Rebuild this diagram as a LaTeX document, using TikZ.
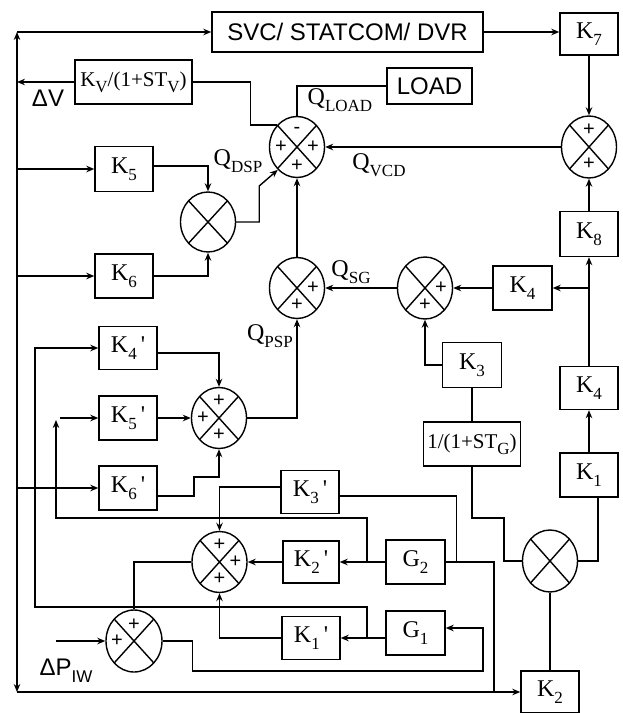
\documentclass[tikz,border=0pt]{standalone}
\usepackage{fontspec}
\setmainfont{Liberation Serif}
\setsansfont{Liberation Sans}
\usetikzlibrary{shapes.geometric, arrows.meta}
\newcommand{\lo}[1]{\raisebox{-0.28em}{\fontsize{17}{17}\selectfont #1}}
\newcommand{\pr}{\,\textquotesingle}

\begin{document}
\begin{tikzpicture}[
    x=1pt, y=-1pt,
    line width=1.4pt,
    font=\fontsize{24}{26}\selectfont,
    block/.style={rectangle, draw=black, minimum width=58, minimum height=44, inner sep=1pt},
    sumj/.style={ellipse, draw=black, minimum width=55, minimum height=61, inner sep=0pt,
        path picture={\draw (path picture bounding box.north west) -- (path picture bounding box.south east)
                            (path picture bounding box.north east) -- (path picture bounding box.south west);}},
    sgn/.style={inner sep=0pt, font=\sffamily\fontsize{20}{20}\selectfont},
    lbl/.style={inner sep=0pt},
    sanslbl/.style={inner sep=0pt, font=\sffamily\fontsize{24}{26}\selectfont},
    arrow/.style={->, >={Stealth[length=8pt, width=6.5pt]}}
]
\useasboundingbox (0,0) rectangle (623,713);

% --- Nodes ---
% Top row
\node (svc) at (347.5,32) [block, minimum width=271, minimum height=40, font=\sffamily\fontsize{24}{26}\selectfont] {SVC/ STATCOM/ DVR};
\node (k7) at (589,34) [block, minimum height=42] {K\lo{7}};
\node (kv) at (133.5,82) [block, minimum width=117, font=\fontsize{21}{24}\selectfont] {K\lo{V}/(1+ST\lo{V})};
\node (load) at (429.5,86) [block, minimum width=85, minimum height=36, font=\sffamily\fontsize{24}{26}\selectfont] {LOAD};

% Summing junctions (upper part)
\node (sq) at (297,147) [sumj] {};
\node (sv) at (589,147) [sumj, minimum height=62] {};
\node (dsp) at (208,222) [sumj, minimum height=60] {};
\node (sg) at (425,288) [sumj, minimum height=62] {};
\node (sp) at (297,288) [sumj] {};

% Right column
\node (k8) at (589,234) [block, minimum height=45] {K\lo{8}};
\node (k4a) at (522.5,288) [block, minimum width=59] {K\lo{4}};
\node (k4b) at (589,388) [block, minimum height=43] {K\lo{4}};
\node (k1) at (589,475) [block] {K\lo{1}};
\node (mul) at (550,561) [sumj, minimum height=62] {};
\node (k2) at (550,692) [block, minimum height=42] {K\lo{2}};

% Centre column
\node (k3) at (472,365) [block, minimum width=59, minimum height=45] {K\lo{3}};
\node (gtf) at (472,444) [block, minimum width=97, font=\fontsize{21}{24}\selectfont] {1/(1+ST\lo{G})};

% Left column
\node (k5) at (124,169) [block, minimum height=45] {K\lo{5}};
\node (k6) at (124,276) [block] {K\lo{6}};
\node (k4p) at (128,348) [block, minimum height=43] {K\lo{4}\pr};
\node (k5p) at (128,418) [block] {K\lo{5}\pr};
\node (k6p) at (128,488) [block] {K\lo{6}\pr};
\node (sk) at (219,418) [sumj] {};

% Lower part
\node (k3p) at (310,492) [block, minimum height=43] {K\lo{3}\pr};
\node (k2p) at (311,562) [block, minimum width=56, minimum height=42] {K\lo{2}\pr};
\node (k1p) at (311,638) [block, minimum height=43] {K\lo{1}\pr};
\node (g2) at (415.5,562) [block, minimum width=59] {G\lo{2}};
\node (g1) at (415.5,633) [block, minimum width=59] {G\lo{1}};
\node (sl) at (219.5,562) [sumj] {};
\node (sdp) at (134,641) [sumj, minimum width=56, minimum height=62] {};

% Signs
\node[sgn] (sq-t) at ([yshift=17pt]sq.center) {-};
\node[sgn] (sq-l) at ([xshift=-16pt]sq.center) {+};
\node[sgn] (sq-r) at ([xshift=16pt]sq.center) {+};
\node[sgn] (sq-b) at ([yshift=-19pt]sq.center) {+};
\node[sgn] (sv-t) at ([yshift=17pt]sv.center) {+};
\node[sgn] (sv-b) at ([yshift=-17pt]sv.center) {+};
\node[sgn] (sg-r) at ([xshift=16pt]sg.center) {+};
\node[sgn] (sg-b) at ([yshift=-17pt]sg.center) {+};
\node[sgn] (sp-r) at ([xshift=16pt]sp.center) {+};
\node[sgn] (sp-b) at ([yshift=-17pt]sp.center) {+};
\node[sgn] (sk-t) at ([yshift=17pt]sk.center) {+};
\node[sgn] (sk-l) at ([xshift=-16pt]sk.center) {+};
\node[sgn] (sk-b) at ([yshift=-17pt]sk.center) {+};
\node[sgn] (sl-t) at ([yshift=17pt]sl.center) {+};
\node[sgn] (sl-r) at ([xshift=16pt]sl.center) {+};
\node[sgn] (sl-b) at ([yshift=-17pt]sl.center) {+};
\node[sgn] (sdp-t) at ([yshift=16pt]sdp.center) {+};
\node[sgn] (sdp-l) at ([xshift=-17pt]sdp.center) {+};

% Signal labels
\node[sanslbl] (dv) at (48,98) {ΔV};
\node[lbl] (qload) at (340,100) {Q\lo{LOAD}};
\node[lbl] (qvcd) at (379,165) {Q\lo{VCD}};
\node[lbl] (qdsp) at (238,161) {Q\lo{DSP}};
\node[lbl] (qsg) at (351,272) {Q\lo{SG}};
\node[lbl] (qpsp) at (270,336) {Q\lo{PSP}};
\node[sanslbl] (dpiw) at (66,671) {ΔP\lo{IW}};

% --- Edges ---
% Left bus
\coordinate (bt) at (17,32);
\coordinate (bb) at (17,692);
\draw [arrow, <->] (bt) -- (bb);
\draw [arrow] (bt) -- (svc.west);
\draw [arrow] (bb) -- (k2.west);
\draw [arrow] (kv.west) -- (kv.west -| bb);
\draw [arrow] (k5.west -| bb) -- (k5.west);
\draw [arrow] (k6.west -| bb) -- (k6.west);
\draw [arrow] (k6p.west -| bb) -- (k6p.west);

% Compensator loop
\draw [arrow] (svc.east) -- (svc.east -| k7.west);
\draw [arrow] (k7) -- (sv);
\draw [arrow] (k8) -- (sv);
\draw [arrow] (sv) -- (sq);
\draw (load.west) -| (sq.north);
\draw (kv.east) -- ++(58,0) |- (sq.132);

% Demand side
\draw [arrow] ([yshift=3pt]k5.east) -| (dsp.north);
\draw [arrow] (k6.east) -| (dsp.south);
\draw [arrow] (dsp.east) -- ++(23,0) -- ++(0,-36) -- (sq.-130);

% Generation side
\draw [arrow] (k4b) -- (k8);
\coordinate (j1) at (k4a.east -| k8.south);
\draw [arrow] (j1) -- (k4a.east);
\draw [arrow] (k1) -- (k4b);
\draw [arrow] (k4a) -- (sg);
\draw [arrow] (k3.west) -| (sg.south);
\draw (gtf) -- (k3);
\draw [arrow] (sg) -- (sp);
\draw [arrow] (sp) -- (sq);
\draw ([xshift=9pt]k1.south) |- (mul.east);
\draw (gtf.south) |- (504,518) |- (mul.west);
\draw (k2) -- (mul);

% Storage side
\draw [arrow] ([yshift=-5pt]k4p.east) -| (sk.north);
\draw [arrow] (k5p) -- (sk);
\draw [arrow] ([yshift=-8pt]k6p.east) -| (194,477) -| (sk.south);
\draw [arrow] (sk.east) -| (sp.south);

% Inner loops
\draw [arrow] (g2.west) -- (k2p.east);
\draw [arrow] (g1.west |- k1p.east) -- (k1p.east);
\draw (g2.east) -- ++(11,0) |- ([yshift=-4pt]k3p.east);
\coordinate (j4) at (494,692);
\draw (g2.east) -| (j4);
\coordinate (j2) at (367,638);
\draw [arrow] (j2) |- (35,607) |- (k4p.west);
\coordinate (j3) at (367,562);
\coordinate (c5) at (56,418);
\draw [arrow] (j3) |- (56,518) -- ([yshift=-2pt]c5);
\draw [arrow] ([xshift=4pt]c5) -- (k5p.west);
\draw [arrow] ([yshift=5pt]k3p.west) -| (sl.north);
\draw [arrow] (k2p) -- (sl);
\draw [arrow] (k1p.west) -| (sl.south);
\draw (sl.west) -| (sdp.north);
\coordinate (dpin) at (56,641);
\draw [arrow] (dpin) -- (sdp.west);
\draw [arrow] (sdp.east) -- ++(30,0) |- (483,671) |- ([yshift=5pt]g1.east);

\end{tikzpicture}
\end{document}
